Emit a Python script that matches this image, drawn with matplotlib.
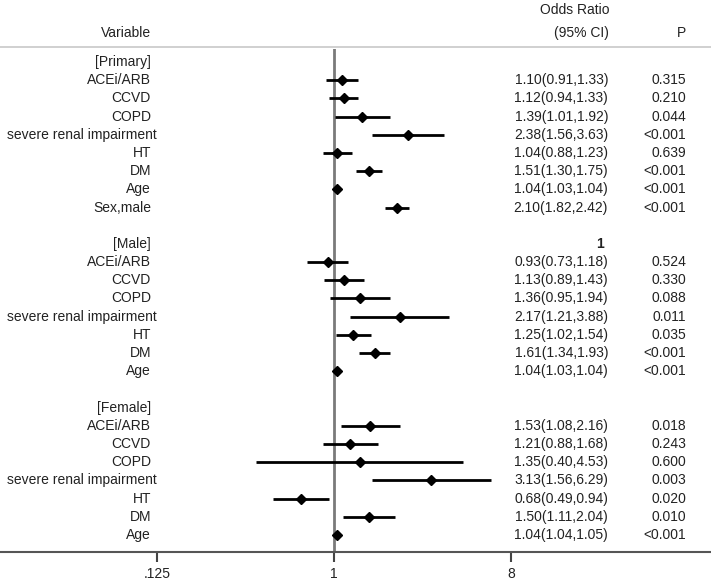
import matplotlib.pyplot as plt
import matplotlib.transforms as mtransforms
from matplotlib.lines import Line2D

plt.rcParams['font.family'] = ['Liberation Sans', 'DejaVu Sans']

# Groups and rows
groups = ['[Primary]', '[Male]', '[Female]']
vars_primary = ['ACEi/ARB', 'CCVD', 'COPD', 'severe renal impairment', 'HT', 'DM', 'Age', 'Sex,male']
vars_male = ['ACEi/ARB', 'CCVD', 'COPD', 'severe renal impairment', 'HT', 'DM', 'Age']
vars_female = ['ACEi/ARB', 'CCVD', 'COPD', 'severe renal impairment', 'HT', 'DM', 'Age']

or_primary = [1.10, 1.12, 1.39, 2.38, 1.04, 1.51, 1.04, 2.10]
lo_primary = [0.91, 0.94, 1.01, 1.56, 0.88, 1.30, 1.03, 1.82]
hi_primary = [1.33, 1.33, 1.92, 3.63, 1.23, 1.75, 1.04, 2.42]
p_primary = ['0.315', '0.210', '0.044', '<0.001', '0.639', '<0.001', '<0.001', '<0.001']

or_male = [0.93, 1.13, 1.36, 2.17, 1.25, 1.61, 1.04]
lo_male = [0.73, 0.89, 0.95, 1.21, 1.02, 1.34, 1.03]
hi_male = [1.18, 1.43, 1.94, 3.88, 1.54, 1.93, 1.04]
p_male = ['0.524', '0.330', '0.088', '0.011', '0.035', '<0.001', '<0.001']

or_female = [1.53, 1.21, 1.35, 3.13, 0.68, 1.50, 1.04]
lo_female = [1.08, 0.88, 0.40, 1.56, 0.49, 1.11, 1.04]
hi_female = [2.16, 1.68, 4.53, 6.29, 0.94, 2.04, 1.05]
p_female = ['0.018', '0.243', '0.600', '0.003', '0.020', '0.010', '<0.001']

xticks = [0.125, 1, 8]
xtick_labels = ['.125', '1', '8']

W, H = 711, 581
fig = plt.figure(figsize=(W / 100, H / 100), dpi=100)

# axes spans full width; top at y=49 px, bottom at y=552 px
ax_top, ax_bot = 49, 552
ax = fig.add_axes([0, (H - ax_bot) / H, 1, (ax_bot - ax_top) / H])

row0, step = 62, 18.19
ax.set_ylim((ax_bot - row0) / step, (ax_top - row0) / step)
ax.set_xscale('log', base=2)
x0 = 334
ax.set_xlim(2 ** ((0 - x0) / 59), 2 ** ((W - x0) / 59))

tc = '#222222'
fs = 10
trans = mtransforms.blended_transform_factory(ax.transAxes, ax.transData)

def col(px):
    return px / W

ax.axvline(1, color='#7a7a7a', lw=2, zorder=1)

blocks = [
    (groups[0], vars_primary, or_primary, lo_primary, hi_primary, p_primary),
    (groups[1], vars_male, or_male, lo_male, hi_male, p_male),
    (groups[2], vars_female, or_female, lo_female, hi_female, p_female),
]

row = 0
for name, labels, ors, los, his, ps in blocks:
    ax.text(col(151), row, name, transform=trans, ha='right', va='center', fontsize=fs, color=tc)
    if name == '[Male]':
        ax.text(col(604), row, '1', transform=trans, ha='right', va='center',
                fontsize=fs, color=tc, fontweight='bold')
    row += 1
    for lab, o, lo, hi, p in zip(labels, ors, los, his, ps):
        ax.plot([lo, hi], [row, row], color='black', lw=2, solid_capstyle='butt', zorder=2)
        ax.plot(o, row, marker='D', color='black', markersize=5.5, zorder=3)
        lab_x = 157 if len(lab) > 15 else 151
        ax.text(col(lab_x), row, lab, transform=trans, ha='right', va='center', fontsize=fs, color=tc)
        ax.text(col(608), row, f'{o:.2f}({lo:.2f},{hi:.2f})', transform=trans,
                ha='right', va='center', fontsize=fs, color=tc)
        ax.text(col(686), row, p, transform=trans, ha='right', va='center', fontsize=fs, color=tc)
        row += 1
    row += 1

ax.set_yticks([])
ax.set_xticks(xticks)
ax.set_xticklabels(xtick_labels, fontsize=fs, color=tc)
ax.minorticks_off()
ax.tick_params(axis='x', length=7, width=1.5, color='#444444', pad=4)
for s in ['top', 'left', 'right']:
    ax.spines[s].set_visible(False)
ax.spines['bottom'].set_color('#555555')
ax.spines['bottom'].set_linewidth(1.5)

# Header
def fy(py):
    return (H - py) / H

fig.text(col(151), fy(33), 'Variable', ha='right', va='center', fontsize=fs, color=tc)
fig.text(col(609), fy(10), 'Odds Ratio', ha='right', va='center', fontsize=fs, color=tc)
fig.text(col(609), fy(33), '(95% CI)', ha='right', va='center', fontsize=fs, color=tc)
fig.text(col(686), fy(33), 'P', ha='right', va='center', fontsize=fs, color=tc)
fig.add_artist(Line2D([0, 1], [fy(47), fy(47)], transform=fig.transFigure,
                      color='#c8c8c8', lw=1.2))

fig.savefig('out.png', dpi=100)
